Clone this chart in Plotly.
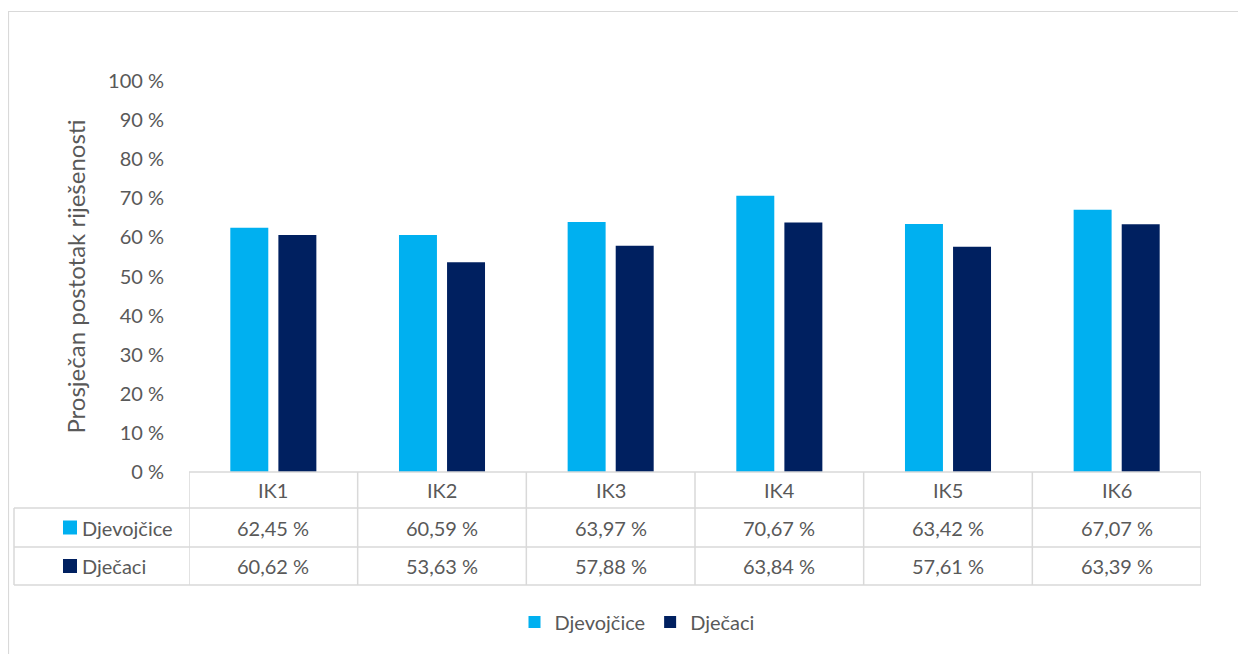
import plotly.graph_objects as go

categories = ["IK1", "IK2", "IK3", "IK4", "IK5", "IK6"]
series_names = ["Djevojčice", "Dječaci"]
djevojcice = [62.45, 60.59, 63.97, 70.67, 63.42, 67.07]
djecaci = [60.62, 53.63, 57.88, 63.84, 57.61, 63.39]
series_values = [djevojcice, djecaci]
colors = ["#00B0F0", "#002060"]
y_ticks = list(range(0, 101, 10))
y_ticktext = [f"{v} %" for v in y_ticks]

OFF = 8  # page body margin
W, H = 1246 - OFF, 654 - OFF
L, R = 189 - OFF, 1201 - OFF
T, B = 81 - OFF, 472 - OFF
PW, PH = R - L, B - T

def px_x(px):
    return (px - OFF - L) / PW

def px_y(py):
    return (B - (py - OFF)) / PH

FONT = "Lato"
TXT = "#595959"
GRID = "#D9D9D9"
FS = 20

fig = go.Figure()
for name, vals, col in zip(series_names, series_values, colors):
    fig.add_trace(go.Bar(x=categories, y=vals, name=name, marker_color=col,
                         marker_line_width=0))

shapes = []
ann = []
lw = 1.5
# outer chart border
shapes.append(dict(type="rect", xref="paper", yref="paper",
                   x0=px_x(8.5), x1=px_x(1270), y0=px_y(11.5), y1=px_y(680),
                   line=dict(color=GRID, width=1.2), fillcolor="rgba(0,0,0,0)", layer="below"))
# table horizontal lines
shapes.append(dict(type="line", xref="paper", yref="paper", x0=0, x1=1,
                   y0=0, y1=0, line=dict(color=GRID, width=lw)))
for py in [508, 547, 585]:
    shapes.append(dict(type="line", xref="paper", yref="paper", x0=px_x(14), x1=1,
                       y0=px_y(py), y1=px_y(py), line=dict(color=GRID, width=lw)))
# vertical lines
shapes.append(dict(type="line", xref="paper", yref="paper", x0=px_x(14), x1=px_x(14),
                   y0=px_y(508), y1=px_y(585), line=dict(color=GRID, width=lw)))
for k in range(len(categories) + 1):
    shapes.append(dict(type="line", xref="x", yref="paper", x0=k - 0.5, x1=k - 0.5,
                       y0=0, y1=px_y(585), line=dict(color=GRID, width=lw)))

# header text
for c in categories:
    ann.append(dict(x=c, xref="x", y=px_y(490), yref="paper", text=c, showarrow=False,
                    font=dict(family=FONT, size=FS, color=TXT), xanchor="center", yanchor="middle"))
# rows
row_y = [527.5, 566]
for name, vals, col, ry in zip(series_names, series_values, colors, row_y):
    shapes.append(dict(type="rect", xref="paper", yref="paper",
                       x0=px_x(63), x1=px_x(77), y0=px_y(ry - 7), y1=px_y(ry + 7),
                       line=dict(width=0), fillcolor=col))
    ann.append(dict(x=px_x(80), xref="paper", y=px_y(ry), yref="paper",
                    text=name, showarrow=False,
                    font=dict(family=FONT, size=FS, color=TXT), xanchor="left", yanchor="middle"))
    for c, v in zip(categories, vals):
        lab = f"{v:.2f}".replace(".", ",") + " %"
        ann.append(dict(x=c, xref="x", y=px_y(ry), yref="paper", text=lab, showarrow=False,
                        font=dict(family=FONT, size=FS, color=TXT), xanchor="center", yanchor="middle"))

fig.update_layout(
    width=W, height=H,
    margin=dict(l=L, r=W - R, t=T, b=H - B, pad=0),
    paper_bgcolor="white", plot_bgcolor="white",
    barmode="group", bargap=0.43, bargroupgap=0.21,
    font=dict(family=FONT, size=FS, color=TXT),
    xaxis=dict(showticklabels=False, showgrid=False, zeroline=False, showline=False,
               ticks="", range=[-0.5, 5.5]),
    yaxis=dict(range=[0, 100], tickmode="array", tickvals=y_ticks, ticktext=y_ticktext,
               showgrid=False, zeroline=False, showline=False, ticks="",
               ticklabelstandoff=24,
               tickfont=dict(family=FONT, size=FS, color=TXT),
               title=dict(text="Prosječan postotak riješenosti", standoff=15,
                          font=dict(family=FONT, size=24, color=TXT))),
    showlegend=True,
    legend=dict(orientation="h", x=px_x(637), xanchor="center", y=px_y(622), yanchor="middle",
                font=dict(family=FONT, size=FS, color=TXT), traceorder="normal",
                itemwidth=30),
    shapes=shapes, annotations=ann,
)

fig.write_html("out.html")
